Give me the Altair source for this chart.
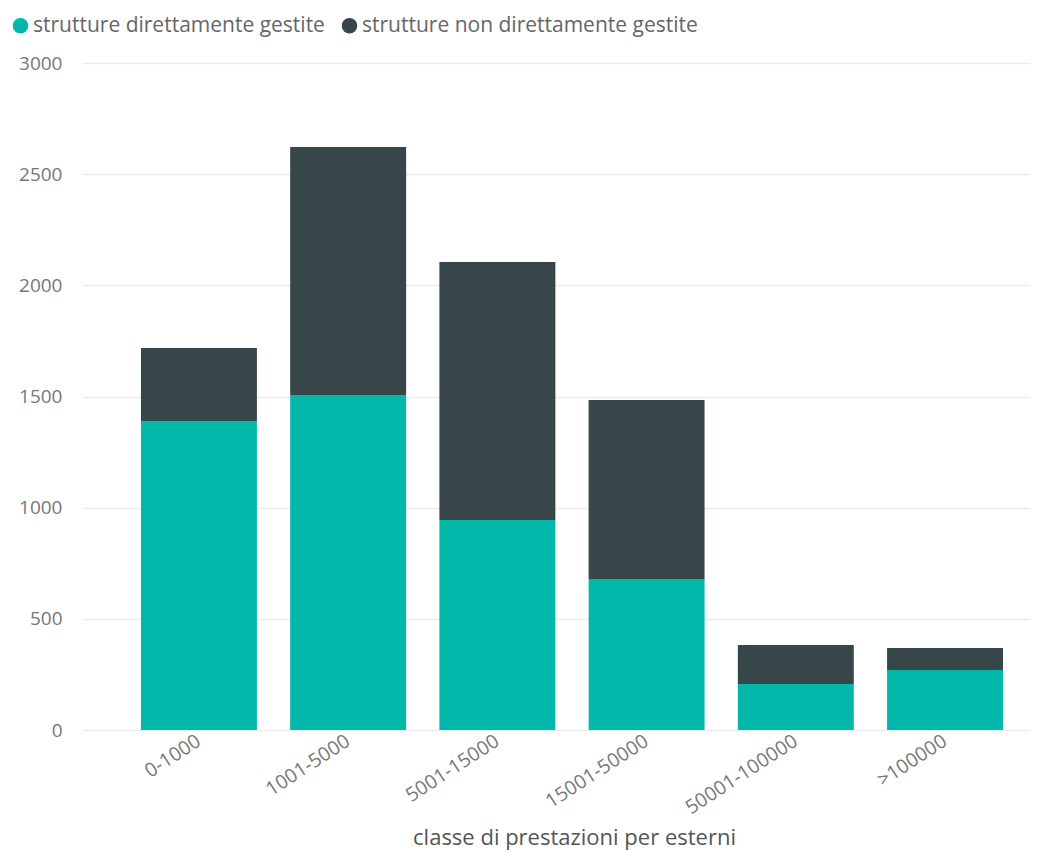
import altair as alt
import pandas as pd

categories = ["0-1000", "1001-5000", "5001-15000", "15001-50000", "50001-100000", ">100000"]
series = ["strutture direttamente gestite", "strutture non direttamente gestite"]
direct = [1390, 1507, 945, 679, 207, 270]
non_direct = [328, 1115, 1160, 805, 175, 99]
colors = ["#01B8AA", "#374649"]

rows = []
for c, d, n in zip(categories, direct, non_direct):
    rows.append({"classe": c, "serie": series[0], "valore": d, "ord": 0})
    rows.append({"classe": c, "serie": series[1], "valore": n, "ord": 1})
df = pd.DataFrame(rows)

FONT = "Open Sans"

chart = alt.Chart(df).mark_bar().encode(
    x=alt.X("classe:N", sort=categories,
            scale=alt.Scale(paddingInner=0.223, paddingOuter=0.288, align=0.686),
            axis=alt.Axis(title="classe di prestazioni per esterni", labelAngle=-33,
                          labelAlign="right", labelBaseline="middle",
                          labelFontSize=19.5, labelColor="#777777", labelFont=FONT,
                          labelPadding=9, titleFontSize=22, titleColor="#555555",
                          titleFont=FONT, titleFontWeight="normal", titlePadding=10,
                          titleX=492, titleAlign="center",
                          domain=False, ticks=False, grid=False)),
    y=alt.Y("valore:Q", stack="zero",
            scale=alt.Scale(domain=[0, 3000]),
            axis=alt.Axis(title=None, values=[0, 500, 1000, 1500, 2000, 2500, 3000],
                          format="d",
                          labelFontSize=19, labelColor="#777777", labelFont=FONT,
                          labelPadding=20, domain=False, ticks=False,
                          gridColor="#ececec", gridWidth=1.5)),
    color=alt.Color("serie:N", scale=alt.Scale(domain=series, range=colors),
                    legend=alt.Legend(title=None, orient="none", legendX=-72, legendY=-48,
                                      direction="horizontal", symbolType="circle",
                                      symbolSize=240, symbolStrokeWidth=0,
                                      labelFontSize=21, labelColor="#666666",
                                      labelFont=FONT, columnPadding=14, labelLimit=0,
                                      symbolOffset=0, labelOffset=2)),
    order=alt.Order("ord:Q", sort="ascending"),
).properties(
    width=948, height=667,
    autosize=alt.AutoSizeParams(type="none"),
    padding={"left": 74, "top": 55, "right": 10, "bottom": 122},
).configure_view(stroke=None)

chart.save("out.html", embed_options={"renderer": "svg", "actions": False})
